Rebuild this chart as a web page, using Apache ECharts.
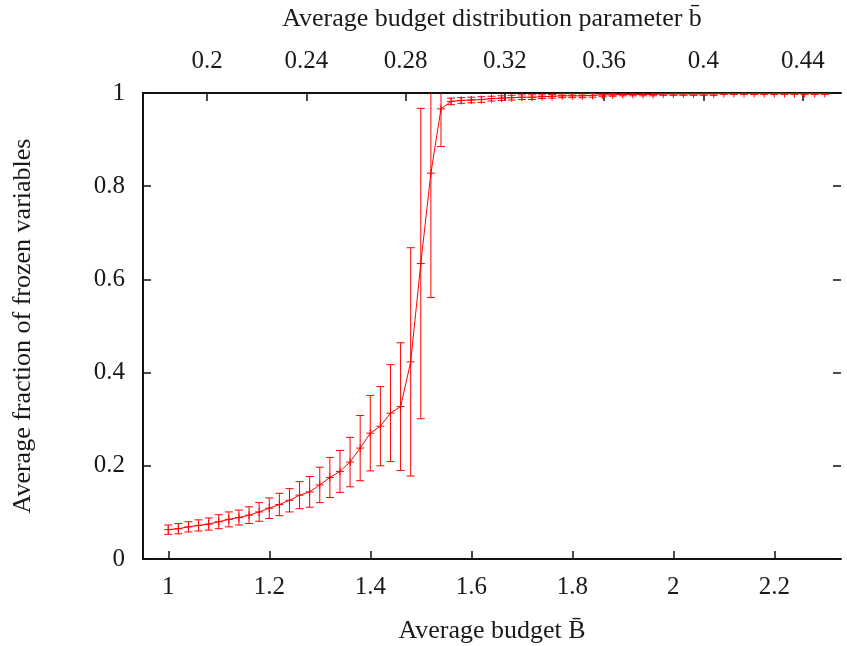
<!DOCTYPE html>
<html>
<head>
<meta charset="utf-8">
<script src="https://cdn.jsdelivr.net/npm/echarts@6/dist/echarts.min.js"></script>
<style>
html,body{margin:0;padding:0;background:#fff;}
#chart{width:847px;height:646px;}
</style>
</head>
<body>
<div id="chart"></div>
<script>
// Average budget B (bottom axis)
const budgets = [1.00,1.02,1.04,1.06,1.08,1.10,1.12,1.14,1.16,1.18,
  1.20,1.22,1.24,1.26,1.28,1.30,1.32,1.34,1.36,1.38,
  1.40,1.42,1.44,1.46,1.48,1.50,1.52,1.54,1.56,1.58,
  1.60,1.62,1.64,1.66,1.68,1.70,1.72,1.74,1.76,1.78,
  1.80,1.82,1.84,1.86,1.88,1.90,1.92,1.94,1.96,1.98,
  2.00,2.02,2.04,2.06,2.08,2.10,2.12,2.14,2.16,2.18,
  2.20,2.22,2.24,2.26,2.28,2.30];
// Average fraction of frozen variables
const frozen = [0.063,0.065,0.069,0.072,0.075,0.080,0.085,0.089,0.094,0.101,
  0.109,0.117,0.126,0.137,0.144,0.159,0.175,0.188,0.208,0.238,
  0.270,0.285,0.313,0.327,0.423,0.634,0.828,0.966,0.982,0.984,
  0.985,0.986,0.988,0.989,0.990,0.991,0.991,0.992,0.993,0.994,
  0.994,0.994,0.995,0.996,0.996,0.997,0.997,0.997,0.997,0.998,
  0.998,0.998,0.998,0.998,0.998,0.999,0.999,0.999,0.999,0.999,
  0.999,0.999,0.999,0.999,0.999,0.999];
// Error (half-width of error bars)
const errors = [0.010,0.011,0.011,0.012,0.013,0.015,0.016,0.016,0.018,0.020,
  0.022,0.024,0.025,0.029,0.033,0.038,0.043,0.045,0.053,0.070,
  0.081,0.085,0.104,0.137,0.245,0.333,0.267,0.081,0.007,0.006,
  0.006,0.006,0.005,0.005,0.005,0.005,0.005,0.004,0.004,0.004,
  0.004,0.004,0.004,0.004,0.003,0.003,0.003,0.003,0.003,0.003,
  0.003,0.003,0.003,0.003,0.003,0.002,0.002,0.002,0.002,0.002,
  0.002,0.002,0.002,0.002,0.002,0.002];
const bottomTicks = [1, 1.2, 1.4, 1.6, 1.8, 2, 2.2];
const topTicks = [0.2, 0.24, 0.28, 0.32, 0.36, 0.4, 0.44];

const FONT = 'Liberation Serif';
const TXT = '#1a1a1a';
const RED = '#ff0000';

const lineData = budgets.map((b, i) => [b, frozen[i]]);
const errData = budgets.map((b, i) => [b, frozen[i], frozen[i] - errors[i], frozen[i] + errors[i]]);

const chart = echarts.init(document.getElementById('chart'), null, {renderer: 'canvas'});

function renderErr(params, api) {
  const x = api.value(0), y = api.value(1), lo = api.value(2), hi = api.value(3);
  const pc = api.coord([x, y]);
  const hiClip = Math.min(hi, 1);
  const pLo = api.coord([x, Math.max(lo, 0)]);
  const pHi = api.coord([x, hiClip]);
  const cap = 4, cr = 4;
  const st = {stroke: RED, lineWidth: 1};
  const children = [
    {type: 'line', shape: {x1: pLo[0], y1: pLo[1], x2: pHi[0], y2: pHi[1]}, style: st},
    {type: 'line', shape: {x1: pLo[0] - cap, y1: pLo[1], x2: pLo[0] + cap, y2: pLo[1]}, style: st},
    {type: 'line', shape: {x1: pc[0] - cr, y1: pc[1], x2: pc[0] + cr, y2: pc[1]}, style: st},
    {type: 'line', shape: {x1: pc[0], y1: pc[1] - cr, x2: pc[0], y2: pc[1] + cr}, style: st}
  ];
  if (hi <= 1) {
    children.push({type: 'line', shape: {x1: pHi[0] - cap, y1: pHi[1], x2: pHi[0] + cap, y2: pHi[1]}, style: st});
  }
  return {type: 'group', children: children};
}

const axisLineStyle = {color: '#111', width: 2};
const tickStyle = {color: '#111', width: 1.5};

chart.setOption({
  animation: false,
  backgroundColor: '#fff',
  grid: {left: 143, right: 6, top: 93, bottom: 87, containLabel: false, outerBoundsMode: 'none'},
  xAxis: [
    {
      type: 'value', position: 'bottom', min: 0.95, max: 2.332,
      axisLine: {show: true, onZero: false, lineStyle: axisLineStyle},
      axisTick: {show: true, inside: true, length: 8, lineStyle: tickStyle, customValues: bottomTicks},
      axisLabel: {show: true, margin: 16, fontFamily: FONT, fontSize: 25, color: TXT, customValues: bottomTicks,
        formatter: v => String(v)},
      splitLine: {show: false},
      name: 'Average budget B\u0304', nameLocation: 'middle', nameGap: 59,
      nameTextStyle: {fontFamily: FONT, fontSize: 26, color: TXT}
    },
    {
      type: 'value', position: 'top', min: 0.1742, max: 0.4554,
      axisLine: {show: true, onZero: false, lineStyle: axisLineStyle},
      axisTick: {show: true, inside: true, length: 8, lineStyle: tickStyle, customValues: topTicks},
      axisLabel: {show: true, margin: 19, fontFamily: FONT, fontSize: 25, color: TXT, customValues: topTicks,
        formatter: v => String(v)},
      splitLine: {show: false},
      name: 'Average budget distribution parameter b\u0304', nameLocation: 'middle', nameGap: 61,
      nameTextStyle: {fontFamily: FONT, fontSize: 26, color: TXT}
    }
  ],
  yAxis: [
    {
      type: 'value', position: 'left', min: 0, max: 1, interval: 0.2,
      axisLine: {show: true, onZero: false, lineStyle: axisLineStyle},
      axisTick: {show: true, inside: true, length: 8, lineStyle: tickStyle},
      axisLabel: {show: true, margin: 18, fontFamily: FONT, fontSize: 25, color: TXT,
        formatter: v => String(+v.toFixed(2))},
      splitLine: {show: false},
      name: 'Average fraction of frozen variables', nameLocation: 'middle', nameGap: 107,
      nameTextStyle: {fontFamily: FONT, fontSize: 26, color: TXT}
    },
    {
      type: 'value', position: 'right', min: 0, max: 1, interval: 0.2,
      axisLine: {show: false},
      axisTick: {show: true, inside: true, length: 8, lineStyle: tickStyle},
      axisLabel: {show: false},
      splitLine: {show: false}
    }
  ],
  series: [
    {
      type: 'line', xAxisIndex: 0, yAxisIndex: 0, data: lineData,
      showSymbol: false, symbol: 'none',
      lineStyle: {color: RED, width: 1}, z: 3, clip: true
    },
    {
      type: 'custom', xAxisIndex: 0, yAxisIndex: 0, data: errData,
      renderItem: renderErr, clip: true, z: 4,
      encode: {x: 0, y: [1, 2, 3]}
    }
  ]
});
</script>
</body>
</html>
